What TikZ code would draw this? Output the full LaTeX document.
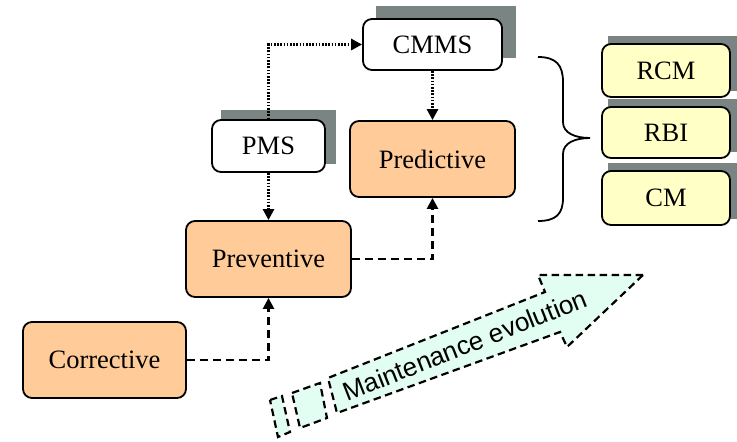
\documentclass[tikz,border=0pt]{standalone}
\usepackage{fontspec}
\setmainfont{Liberation Serif}
\newfontfamily\arrowfont{Liberation Sans}
\usetikzlibrary{arrows.meta,backgrounds}
\definecolor{peach}{HTML}{FFCC99}
\definecolor{paleyellow}{HTML}{FFFFC6}
\definecolor{shadowgray}{HTML}{7A8482}
\definecolor{mint}{HTML}{E2FDF2}
\begin{document}
\begin{tikzpicture}[x=1pt,y=-1pt,
 box/.style={draw=black, line width=1.8pt, rounded corners=9pt, align=center, inner sep=0pt, font=\fontsize{26.5}{30}\selectfont},
 orangebox/.style={box, fill=peach, minimum width=165pt, minimum height=76pt},
 whitebox/.style={box, fill=white, minimum height=52pt},
 yellowbox/.style={box, fill=paleyellow, minimum width=128pt, minimum height=52pt},
 dashconn/.style={line width=2.4pt, dash pattern=on 8pt off 5pt, -{Triangle[length=11pt,width=11pt]}},
 dotconn/.style={line width=2.6pt, dash pattern=on 1.6pt off 1.6pt, -{Triangle[length=11pt,width=11pt]}},
 bigarrow/.style={draw=black, line width=2.2pt, dash pattern=on 7.5pt off 4.5pt, fill=mint, line join=miter},
 shadowbox/.style={fill=shadowgray}]
\useasboundingbox (0,0) rectangle (737,442);

% main boxes
\node[orangebox, minimum width=163pt] (corr) at (104.5,360) {Corrective};
\node[orangebox] (prev) at (268.5,259) {Preventive};
\node[orangebox] (pred) at (432.5,159) {Predictive};
\node[whitebox, minimum width=113pt] (pms) at (268.5,146) {PMS};
\node[whitebox, minimum width=139pt, minimum height=51pt] (cmms) at (432.5,44.5) {CMMS};
\node[yellowbox, minimum height=53pt] (rcm) at (666,70.5) {RCM};
\node[yellowbox, minimum height=51pt] (rbi) at (666,132.5) {RBI};
\node[yellowbox, minimum height=54pt] (cm) at (666,198) {CM};

% shadows
\begin{scope}[on background layer]
\fill[shadowbox] ([shift={(10,-9)}]pms.south west) rectangle ([shift={(10,-9)}]pms.north east);
\fill[shadowbox] ([shift={(13.5,-12.5)}]cmms.south west) rectangle ([shift={(13.5,-12.5)}]cmms.north east);
\fill[shadowbox] ([shift={(7,-7)}]rcm.south west) rectangle ([shift={(7,-7)}]rcm.north east);
\fill[shadowbox] ([shift={(7,-7)}]rbi.south west) rectangle ([shift={(7,-7)}]rbi.north east);
\fill[shadowbox] ([shift={(7,-7)}]cm.south west) rectangle ([shift={(7,-7)}]cm.north east);
\end{scope}

% connectors
\draw[dashconn] (corr.east) -| (prev.south);
\draw[dashconn] (prev.east) -| (pred.south);
\draw[dotconn] (pms.south) -- (prev.north);
\draw[dotconn] (pms.north) |- (cmms.west);
\draw[dotconn] (cmms.south) -- (pred.north);

% brace
\draw[line width=1.8pt] (538,57) .. controls (556,57) and (563,65) .. (563,82) -- (563,122)
  .. controls (563,133) and (575,138) .. (590,138)
  .. controls (575,138) and (563,143) .. (563,154) -- (563,198)
  .. controls (563,214) and (556,221) .. (538,221);

% evolution arrow
\draw[bigarrow] (643,275) -- (538,275) -- (545,292) -- (328,378) -- (337,413) -- (560,332) -- (567,347) -- cycle;
\draw[bigarrow] (292,393) -- (320,383) -- (327,418) -- (300,428) -- cycle;
\draw[bigarrow] (270,400) -- (282,396) -- (290,432) -- (278,437) -- cycle;
\node[rotate=21.6, font=\arrowfont\fontsize{26}{30}\selectfont] (evo) at (465,345) {Maintenance evolution};
\end{tikzpicture}
\end{document}
